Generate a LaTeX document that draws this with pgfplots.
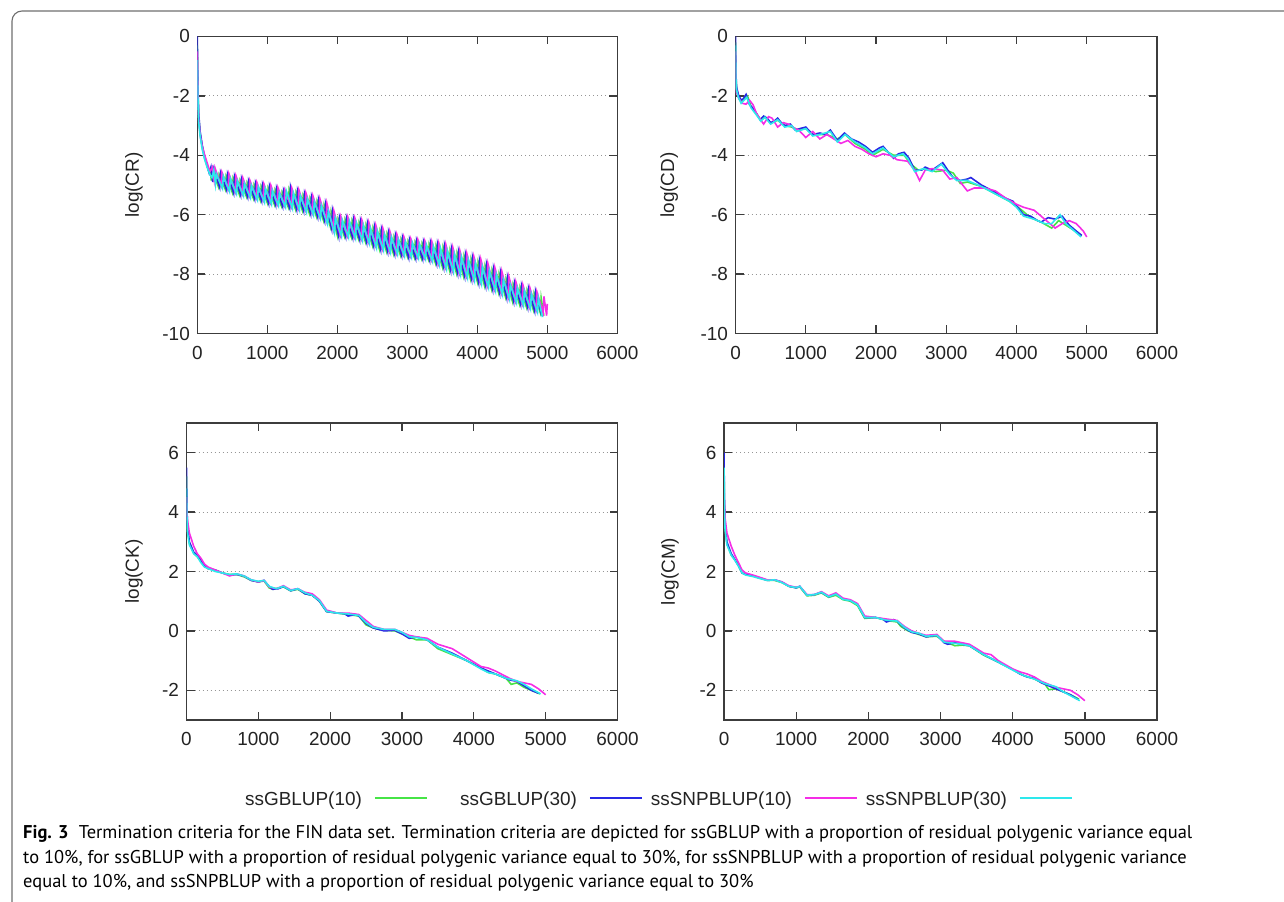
\documentclass[border=0pt]{standalone}
\usepackage{fontspec}
\setmainfont{Liberation Sans}
\newfontfamily\capfont{PT Sans}
\usepackage{pgfplots}
\pgfplotsset{compat=1.18}
\definecolor{cgreen}{RGB}{70,228,70}
\definecolor{cblue}{RGB}{40,40,228}
\definecolor{cmag}{RGB}{245,45,230}
\definecolor{ccyan}{RGB}{45,232,236}
\definecolor{axcol}{RGB}{60,60,60}
\definecolor{txtcol}{RGB}{35,35,35}
\definecolor{gridcol}{RGB}{150,150,150}
\definecolor{framecol}{RGB}{110,110,110}
\newcommand{\pf}{\fontsize{19}{23}\selectfont}
\pgfplotsset{
  myax/.style={
    scale only axis, height=297bp,
    xmin=0, xmax=6000, xtick={0,1000,2000,3000,4000,5000,6000},
    xticklabels={0,1000,2000,3000,4000,5000,6000},
    tick align=inside, major tick length=8bp,
    axis line style={draw=axcol, line width=1.3bp},
    major tick style={draw=axcol, line width=1.3bp},
    ymajorgrids,
    major grid style={draw=gridcol, line width=1.1bp, dash pattern=on 1.1bp off 2.9bp},
    tick label style={font=\pf, text=txtcol},
    xticklabel style={yshift=-9bp},
    yticklabel style={xshift=-4bp},
    label style={font=\pf, text=txtcol},
    every axis plot/.append style={line width=1.6bp},
    legend image code/.code={\draw[#1, line width=2bp] (0bp,1.5bp) -- (52bp,1.5bp);},
  },
  topax/.style={ymin=-10, ymax=0, ytick={-10,-8,-6,-4,-2,0}, yticklabels={-10,-8,-6,-4,-2,0}},
  botax/.style={ymin=-3, ymax=7, ytick={-2,0,2,4,6}, yticklabels={-2,0,2,4,6}},
}
\begin{document}
\begin{tikzpicture}[x=1bp,y=1bp]
\path[use as bounding box] (0,0) rectangle (1284,902);
% frame of the caption box
\draw[framecol, line width=1.1bp] (1290,891) -- (22,891) arc[start angle=90, end angle=180, radius=10] -- (12,-5);

% ---------------- log(CR) ----------------
\begin{axis}[myax, topax, at={(197.3bp,568.5bp)}, anchor=south west, width=420bp,
  ylabel={log(CR)}, ylabel style={at={(axis description cs:-0.1507,0.5)}, anchor=center}]
\addplot[cgreen] coordinates {(0,-0.3)(8,-1.8)(20,-2.7)(40,-3.25)(70,-3.7)(100,-4.05)(130,-4.3)(160,-4.5)(185,-4.45)
(200,-4.85)(212,-4.50)(300,-5.05)(312,-4.65)(400,-5.15)(412,-4.70)(500,-5.25)(512,-4.77)(600,-5.32)(612,-4.85)
(700,-5.38)(712,-4.93)(800,-5.45)(812,-5.00)(900,-5.52)(912,-5.05)(1000,-5.60)(1012,-5.10)(1100,-5.65)(1112,-5.17)
(1200,-5.70)(1212,-5.25)(1300,-5.75)(1312,-5.15)(1400,-5.80)(1412,-5.25)(1500,-5.85)(1512,-5.35)(1600,-5.95)(1612,-5.45)
(1700,-6.05)(1712,-5.55)(1800,-6.18)(1812,-5.68)(1900,-6.40)(1912,-5.90)(2000,-6.70)(2012,-6.15)(2100,-6.72)(2112,-6.17)
(2200,-6.75)(2212,-6.20)(2300,-6.80)(2312,-6.27)(2400,-6.90)(2412,-6.35)(2500,-7.02)(2512,-6.45)(2600,-7.15)(2612,-6.55)
(2700,-7.22)(2712,-6.65)(2800,-7.30)(2812,-6.75)(2900,-7.35)(2912,-6.83)(3000,-7.40)(3012,-6.90)(3100,-7.44)(3112,-6.93)
(3200,-7.47)(3212,-6.97)(3300,-7.50)(3312,-7.00)(3400,-7.62)(3412,-7.05)(3500,-7.75)(3512,-7.10)(3600,-7.85)(3612,-7.20)
(3700,-7.95)(3712,-7.30)(3800,-8.05)(3812,-7.40)(3900,-8.15)(3912,-7.50)(4000,-8.25)(4012,-7.60)(4100,-8.37)(4112,-7.73)
(4200,-8.48)(4212,-7.87)(4300,-8.60)(4312,-8.00)(4400,-8.75)(4412,-8.17)(4500,-8.90)(4512,-8.35)(4600,-9.00)(4612,-8.45)
(4700,-9.10)(4712,-8.55)(4800,-9.20)(4812,-8.65)(4900,-9.30)(4912,-8.80)(4950,-9.40)};
\addplot[cblue] coordinates {(0,0)(8,-1.6)(20,-2.6)(40,-3.2)(70,-3.65)(100,-4.0)(140,-4.35)(170,-4.6)(195,-4.4)
(220,-4.90)(232,-4.45)(320,-5.08)(332,-4.58)(420,-5.18)(432,-4.63)(520,-5.28)(532,-4.70)(620,-5.35)(632,-4.78)
(720,-5.41)(732,-4.86)(820,-5.48)(832,-4.93)(920,-5.55)(932,-4.98)(1020,-5.63)(1032,-5.03)(1120,-5.68)(1132,-5.10)
(1220,-5.73)(1232,-5.18)(1320,-5.78)(1332,-5.06)(1420,-5.83)(1432,-5.18)(1520,-5.88)(1532,-5.28)(1620,-5.98)(1632,-5.38)
(1720,-6.08)(1732,-5.48)(1820,-6.22)(1832,-5.62)(1920,-6.48)(1932,-5.85)(2020,-6.73)(2032,-6.08)(2120,-6.75)(2132,-6.10)
(2220,-6.78)(2232,-6.13)(2320,-6.85)(2332,-6.20)(2420,-6.94)(2432,-6.28)(2520,-7.06)(2532,-6.38)(2620,-7.18)(2632,-6.48)
(2720,-7.25)(2732,-6.58)(2820,-7.33)(2832,-6.68)(2920,-7.38)(2932,-6.76)(3020,-7.45)(3032,-6.83)(3120,-7.48)(3132,-6.86)
(3220,-7.50)(3232,-6.90)(3320,-7.55)(3332,-6.93)(3420,-7.66)(3432,-6.98)(3520,-7.78)(3532,-7.03)(3620,-7.88)(3632,-7.13)
(3720,-7.98)(3732,-7.23)(3820,-8.08)(3832,-7.33)(3920,-8.18)(3932,-7.43)(4020,-8.30)(4032,-7.53)(4120,-8.40)(4132,-7.66)
(4220,-8.52)(4232,-7.80)(4320,-8.65)(4332,-7.93)(4420,-8.80)(4432,-8.10)(4520,-8.93)(4532,-8.28)(4620,-9.03)(4632,-8.38)
(4720,-9.13)(4732,-8.48)(4820,-9.25)(4832,-8.58)(4920,-9.40)};
\addplot[cmag] coordinates {(0,-0.5)(8,-1.9)(20,-2.8)(40,-3.3)(70,-3.7)(100,-3.95)(140,-4.25)(180,-4.55)(215,-4.4)
(240,-4.82)(252,-4.42)(340,-5.02)(352,-4.57)(440,-5.12)(452,-4.62)(540,-5.22)(552,-4.69)(640,-5.28)(652,-4.77)
(740,-5.35)(752,-4.85)(840,-5.42)(852,-4.92)(940,-5.49)(952,-4.97)(1040,-5.57)(1052,-5.02)(1140,-5.62)(1152,-5.09)
(1240,-5.67)(1252,-5.17)(1340,-5.72)(1352,-5.12)(1440,-5.77)(1452,-5.17)(1540,-5.82)(1552,-5.27)(1640,-5.92)(1652,-5.37)
(1740,-6.03)(1752,-5.47)(1840,-6.18)(1852,-5.62)(1940,-6.48)(1952,-5.88)(2040,-6.67)(2052,-6.07)(2140,-6.69)(2152,-6.09)
(2240,-6.73)(2252,-6.12)(2340,-6.79)(2352,-6.19)(2440,-6.88)(2452,-6.27)(2540,-7.00)(2552,-6.37)(2640,-7.12)(2652,-6.47)
(2740,-7.20)(2752,-6.57)(2840,-7.27)(2852,-6.67)(2940,-7.32)(2952,-6.75)(3040,-7.37)(3052,-6.82)(3140,-7.40)(3152,-6.85)
(3240,-7.43)(3252,-6.89)(3340,-7.50)(3352,-6.92)(3440,-7.62)(3452,-6.97)(3540,-7.73)(3552,-7.02)(3640,-7.83)(3652,-7.12)
(3740,-7.93)(3752,-7.22)(3840,-8.03)(3852,-7.32)(3940,-8.13)(3952,-7.42)(4040,-8.23)(4052,-7.52)(4140,-8.35)(4152,-7.65)
(4240,-8.47)(4252,-7.79)(4340,-8.60)(4352,-7.92)(4440,-8.75)(4452,-8.09)(4540,-8.88)(4552,-8.27)(4640,-8.98)(4652,-8.37)
(4740,-9.08)(4752,-8.47)(4840,-9.18)(4852,-8.60)(4940,-9.30)(4952,-8.75)(4990,-9.40)(5000,-9.00)};
\addplot[ccyan] coordinates {(0,-0.8)(8,-2.0)(20,-2.9)(40,-3.35)(70,-3.8)(100,-4.1)(140,-4.4)(180,-4.65)(210,-4.75)(235,-4.5)
(260,-4.97)(272,-4.63)(360,-5.12)(372,-4.70)(460,-5.22)(472,-4.78)(560,-5.30)(572,-4.86)(660,-5.37)(672,-4.94)
(760,-5.44)(772,-5.01)(860,-5.51)(872,-5.06)(960,-5.59)(972,-5.11)(1060,-5.65)(1072,-5.18)(1160,-5.70)(1172,-5.26)
(1260,-5.75)(1272,-5.20)(1360,-5.80)(1372,-5.26)(1460,-5.85)(1472,-5.36)(1560,-5.92)(1572,-5.46)(1660,-6.02)(1672,-5.56)
(1760,-6.14)(1772,-5.69)(1860,-6.32)(1872,-5.88)(1960,-6.62)(1972,-6.10)(2060,-6.73)(2072,-6.18)(2160,-6.76)(2172,-6.21)
(2260,-6.80)(2272,-6.27)(2360,-6.88)(2372,-6.35)(2460,-6.98)(2472,-6.45)(2560,-7.12)(2572,-6.55)(2660,-7.20)(2672,-6.65)
(2760,-7.28)(2772,-6.75)(2860,-7.34)(2872,-6.83)(2960,-7.40)(2972,-6.90)(3060,-7.44)(3072,-6.94)(3160,-7.47)(3172,-6.98)
(3260,-7.50)(3272,-7.01)(3360,-7.58)(3372,-7.06)(3460,-7.71)(3472,-7.11)(3560,-7.83)(3572,-7.21)(3660,-7.93)(3672,-7.31)
(3760,-8.03)(3772,-7.41)(3860,-8.13)(3872,-7.51)(3960,-8.23)(3972,-7.61)(4060,-8.34)(4072,-7.74)(4160,-8.45)(4172,-7.88)
(4260,-8.57)(4272,-8.01)(4360,-8.70)(4372,-8.18)(4460,-8.85)(4472,-8.36)(4560,-8.97)(4572,-8.46)(4660,-9.07)(4672,-8.56)
(4760,-9.17)(4772,-8.66)(4860,-9.28)(4872,-8.80)(4930,-9.45)};
\end{axis}

% ---------------- log(CD) ----------------
\begin{axis}[myax, topax, at={(735.5bp,568.5bp)}, anchor=south west, width=421.5bp,
  ylabel={log(CD)}, ylabel style={at={(axis description cs:-0.1573,0.5)}, anchor=center}]
\addplot[cgreen] coordinates {(0,-0.2)(5,-1.3)(15,-1.75)(40,-2.0)(80,-2.2)(120,-2.1)(170,-2.0)(220,-2.35)(300,-2.6)(360,-2.82)(420,-2.7)(500,-2.92)(600,-2.82)(700,-3.0)(800,-3.05)(900,-3.15)(1000,-3.1)(1100,-3.3)(1300,-3.3)(1450,-3.45)(1560,-3.3)(1700,-3.6)(1850,-3.8)(1950,-4.0)(2100,-3.8)(2250,-4.0)(2400,-4.0)(2500,-4.3)(2600,-4.5)(2700,-4.45)(2850,-4.55)(3000,-4.5)(3100,-4.6)(3200,-4.95)(3300,-4.9)(3500,-5.05)(3700,-5.3)(3900,-5.55)(4050,-5.8)(4200,-6.1)(4350,-6.25)(4500,-6.45)(4600,-6.2)(4700,-6.35)(4800,-6.5)(4920,-6.7)};
\addplot[cblue] coordinates {(0,0)(5,-1.2)(15,-1.7)(40,-1.95)(80,-2.15)(110,-2.1)(150,-1.95)(200,-2.3)(260,-2.45)(300,-2.6)(350,-2.8)(400,-2.68)(450,-2.75)(500,-2.9)(550,-2.85)(600,-2.75)(650,-2.9)(700,-3.0)(780,-2.95)(850,-3.15)(920,-3.1)(1000,-3.05)(1100,-3.3)(1200,-3.25)(1280,-3.3)(1350,-3.15)(1450,-3.5)(1550,-3.25)(1650,-3.45)(1750,-3.55)(1850,-3.7)(1950,-3.9)(2050,-3.75)(2100,-3.7)(2250,-4.1)(2320,-3.95)(2400,-3.9)(2470,-4.1)(2550,-4.5)(2650,-4.5)(2700,-4.4)(2800,-4.5)(2950,-4.25)(3050,-4.6)(3100,-4.75)(3200,-4.85)(3300,-4.8)(3350,-4.75)(3500,-5.0)(3700,-5.25)(3850,-5.45)(3950,-5.55)(4000,-5.7)(4100,-6.0)(4200,-6.05)(4300,-6.2)(4350,-6.25)(4450,-6.1)(4550,-6.15)(4650,-6.05)(4750,-6.35)(4850,-6.55)(4930,-6.7)};
\addplot[cmag] coordinates {(0,-0.5)(5,-1.5)(15,-1.9)(50,-2.1)(100,-2.25)(150,-2.28)(200,-2.15)(250,-2.3)(300,-2.6)(400,-2.95)(470,-2.7)(520,-2.75)(600,-3.05)(680,-2.9)(750,-2.95)(850,-3.1)(900,-3.15)(1000,-3.4)(1100,-3.2)(1200,-3.45)(1300,-3.3)(1400,-3.45)(1500,-3.6)(1600,-3.5)(1700,-3.7)(1800,-3.8)(1900,-3.95)(2000,-4.05)(2100,-3.95)(2200,-4.0)(2300,-4.15)(2450,-4.2)(2550,-4.5)(2620,-4.85)(2700,-4.5)(2800,-4.45)(2950,-4.5)(3050,-4.8)(3150,-4.75)(3300,-5.2)(3400,-5.1)(3550,-5.1)(3700,-5.2)(3850,-5.45)(4000,-5.65)(4100,-5.75)(4250,-5.85)(4400,-6.15)(4550,-6.45)(4650,-6.3)(4750,-6.2)(4850,-6.3)(4950,-6.55)(5000,-6.75)};
\addplot[ccyan] coordinates {(0,-0.3)(5,-1.4)(15,-1.8)(40,-2.05)(80,-2.25)(120,-2.15)(160,-2.05)(220,-2.4)(300,-2.65)(360,-2.85)(420,-2.72)(500,-2.95)(600,-2.8)(700,-3.05)(800,-3.0)(870,-3.2)(1000,-3.1)(1100,-3.35)(1200,-3.3)(1350,-3.2)(1450,-3.55)(1560,-3.3)(1700,-3.55)(1850,-3.75)(1950,-3.95)(2100,-3.75)(2250,-4.05)(2380,-3.95)(2450,-4.1)(2550,-4.55)(2680,-4.45)(2800,-4.55)(2930,-4.3)(3050,-4.65)(3150,-4.85)(3300,-4.85)(3500,-5.05)(3700,-5.3)(3900,-5.55)(4000,-5.75)(4100,-6.05)(4250,-6.15)(4400,-6.3)(4500,-6.3)(4620,-6.0)(4700,-6.3)(4800,-6.5)(4920,-6.75)};
\end{axis}

% ---------------- log(CK) ----------------
\begin{axis}[myax, botax, at={(186.5bp,182bp)}, anchor=south west, width=431bp,
  ylabel={log(CK)}, ylabel style={at={(axis description cs:-0.1218,0.5)}, anchor=center},
  legend plot pos=right,
  legend style={draw=none, fill=none, inner sep=0pt, legend columns=4, font=\pf,
    at={(axis description cs:0.0677,-0.2674)}, anchor=west,
    nodes={inner sep=0pt, text=txtcol},
    /tikz/every odd column/.append style={column sep=12bp},
    /tikz/every even column/.append style={column sep=3bp}}]
\addplot[cgreen] coordinates {(0,5.2)(5,4.0)(15,3.4)(40,2.95)(100,2.62)(150,2.5)(200,2.35)(250,2.2)(300,2.1)(400,2.05)(500,1.95)(600,1.9)(700,1.9)(800,1.82)(900,1.7)(1000,1.65)(1080,1.68)(1150,1.45)(1200,1.4)(1350,1.48)(1450,1.35)(1550,1.4)(1650,1.25)(1750,1.2)(1850,1.0)(1950,0.65)(2100,0.6)(2250,0.55)(2400,0.5)(2450,0.35)(2500,0.2)(2600,0.1)(2750,0.02)(2900,0.0)(3000,-0.1)(3100,-0.2)(3200,-0.3)(3350,-0.3)(3500,-0.6)(3700,-0.8)(3900,-1.0)(4100,-1.25)(4200,-1.4)(4300,-1.45)(4450,-1.6)(4520,-1.8)(4600,-1.75)(4700,-1.9)(4800,-2.0)(4920,-2.12)};
\addlegendentry{\makebox[146bp][r]{ssGBLUP(10)}}
\addplot[cblue] coordinates {(0,5.5)(5,4.2)(15,3.5)(40,3.0)(100,2.65)(150,2.55)(200,2.4)(250,2.2)(300,2.1)(400,2.05)(500,1.95)(600,1.88)(700,1.9)(800,1.85)(900,1.7)(1000,1.65)(1080,1.7)(1150,1.5)(1200,1.4)(1280,1.42)(1350,1.5)(1450,1.35)(1550,1.42)(1650,1.25)(1750,1.2)(1850,1.0)(1950,0.65)(2100,0.6)(2200,0.58)(2250,0.5)(2350,0.55)(2400,0.5)(2500,0.25)(2600,0.1)(2750,0.0)(2900,0.02)(3000,-0.1)(3100,-0.25)(3200,-0.2)(3350,-0.3)(3500,-0.55)(3700,-0.75)(3900,-1.0)(4100,-1.25)(4200,-1.35)(4300,-1.45)(4400,-1.55)(4500,-1.65)(4600,-1.7)(4700,-1.85)(4800,-2.0)(4900,-2.1)};
\addlegendentry{\makebox[146bp][r]{ssGBLUP(30)}}
\addplot[cmag] coordinates {(0,4.5)(5,4.0)(15,3.7)(40,3.3)(100,2.85)(150,2.6)(200,2.45)(250,2.25)(300,2.15)(400,2.05)(500,1.95)(600,1.85)(700,1.92)(800,1.85)(900,1.72)(1000,1.65)(1080,1.7)(1150,1.48)(1250,1.42)(1350,1.52)(1450,1.38)(1550,1.42)(1650,1.3)(1750,1.25)(1850,1.05)(1950,0.7)(2100,0.6)(2250,0.6)(2400,0.55)(2500,0.35)(2600,0.15)(2750,0.05)(2900,0.05)(3000,-0.05)(3100,-0.15)(3200,-0.2)(3350,-0.25)(3500,-0.45)(3700,-0.6)(3900,-0.9)(4100,-1.2)(4200,-1.25)(4300,-1.35)(4500,-1.6)(4600,-1.7)(4700,-1.75)(4800,-1.8)(4900,-1.95)(5000,-2.15)};
\addlegendentry{\makebox[146bp][r]{ssSNPBLUP(10)}}
\addplot[ccyan] coordinates {(0,4.8)(5,3.9)(15,3.3)(40,2.9)(100,2.6)(150,2.5)(200,2.3)(250,2.15)(300,2.1)(400,2.0)(500,1.95)(600,1.9)(700,1.92)(800,1.85)(900,1.72)(1000,1.67)(1080,1.7)(1150,1.5)(1250,1.42)(1350,1.5)(1450,1.36)(1550,1.42)(1650,1.28)(1750,1.2)(1850,1.02)(1950,0.66)(2100,0.6)(2250,0.57)(2400,0.52)(2500,0.28)(2600,0.12)(2750,0.05)(2900,0.05)(3000,-0.05)(3100,-0.2)(3200,-0.22)(3350,-0.3)(3500,-0.55)(3700,-0.78)(3900,-1.0)(4100,-1.28)(4200,-1.4)(4300,-1.45)(4450,-1.6)(4600,-1.68)(4700,-1.8)(4800,-1.95)(4930,-2.12)};
\addlegendentry{\makebox[146bp][r]{ssSNPBLUP(30)}}
\end{axis}

% ---------------- log(CM) ----------------
\begin{axis}[myax, botax, at={(724bp,182bp)}, anchor=south west, width=433bp,
  ylabel={log(CM)}, ylabel style={at={(axis description cs:-0.1247,0.5)}, anchor=center}]
\addplot[cgreen] coordinates {(0,5.8)(5,4.3)(15,3.5)(40,2.95)(100,2.55)(150,2.4)(200,2.2)(250,1.95)(300,1.9)(400,1.85)(500,1.78)(600,1.7)(700,1.7)(800,1.63)(900,1.5)(1000,1.45)(1050,1.48)(1150,1.18)(1250,1.2)(1350,1.28)(1450,1.13)(1550,1.2)(1650,1.05)(1750,1.0)(1850,0.85)(1950,0.42)(2100,0.45)(2250,0.35)(2400,0.3)(2450,0.15)(2550,0.0)(2650,-0.08)(2800,-0.2)(2950,-0.18)(3050,-0.35)(3200,-0.5)(3300,-0.48)(3400,-0.5)(3600,-0.82)(3800,-1.05)(4000,-1.3)(4150,-1.5)(4300,-1.62)(4450,-1.8)(4500,-1.98)(4600,-1.95)(4700,-2.05)(4800,-2.15)(4920,-2.3)};
\addplot[cblue] coordinates {(0,6.0)(5,4.5)(15,3.6)(40,3.0)(100,2.6)(150,2.4)(200,2.2)(250,1.95)(300,1.9)(400,1.85)(500,1.78)(600,1.7)(700,1.72)(800,1.65)(900,1.5)(1000,1.45)(1050,1.5)(1150,1.2)(1250,1.22)(1350,1.3)(1450,1.15)(1550,1.25)(1650,1.08)(1750,1.02)(1850,0.9)(1950,0.45)(2100,0.45)(2200,0.4)(2250,0.3)(2350,0.38)(2400,0.32)(2500,0.1)(2600,-0.05)(2700,-0.1)(2800,-0.2)(2950,-0.15)(3050,-0.4)(3100,-0.45)(3200,-0.4)(3300,-0.45)(3400,-0.5)(3600,-0.8)(3800,-1.05)(4000,-1.3)(4100,-1.45)(4200,-1.55)(4300,-1.6)(4400,-1.75)(4500,-1.85)(4600,-1.95)(4700,-2.05)(4800,-2.15)(4900,-2.3)};
\addplot[cmag] coordinates {(0,5.0)(5,4.3)(15,3.8)(40,3.3)(100,2.85)(150,2.55)(200,2.3)(250,2.05)(300,1.95)(400,1.88)(500,1.8)(600,1.72)(700,1.72)(800,1.65)(900,1.52)(1000,1.47)(1050,1.5)(1150,1.22)(1250,1.22)(1350,1.32)(1450,1.18)(1550,1.28)(1650,1.1)(1750,1.05)(1850,0.92)(1950,0.5)(2100,0.45)(2250,0.4)(2400,0.35)(2500,0.15)(2600,0.0)(2700,-0.08)(2800,-0.15)(2950,-0.12)(3050,-0.35)(3200,-0.35)(3300,-0.4)(3400,-0.45)(3600,-0.75)(3700,-0.8)(3800,-1.0)(4000,-1.28)(4100,-1.38)(4200,-1.45)(4300,-1.55)(4400,-1.7)(4500,-1.8)(4600,-1.9)(4700,-1.95)(4800,-2.0)(4900,-2.15)(5000,-2.35)};
\addplot[ccyan] coordinates {(0,5.5)(5,4.1)(15,3.4)(40,2.9)(100,2.55)(150,2.38)(200,2.18)(250,1.95)(300,1.88)(400,1.83)(500,1.76)(600,1.7)(700,1.72)(800,1.63)(900,1.5)(1000,1.46)(1050,1.5)(1150,1.2)(1250,1.22)(1350,1.3)(1450,1.15)(1550,1.24)(1650,1.06)(1750,1.02)(1850,0.88)(1950,0.45)(2100,0.45)(2250,0.36)(2400,0.33)(2500,0.12)(2600,-0.03)(2700,-0.08)(2800,-0.18)(2950,-0.15)(3050,-0.38)(3200,-0.42)(3300,-0.45)(3400,-0.5)(3600,-0.8)(3800,-1.05)(4000,-1.32)(4150,-1.5)(4300,-1.62)(4450,-1.78)(4600,-1.88)(4700,-2.05)(4800,-2.18)(4930,-2.35)};
\end{axis}

% ---------------- caption ----------------
\begin{scope}[every node/.style={anchor=base west, inner sep=0pt, font=\capfont\fontsize{18.55}{22}\selectfont, text=black}]
\node at (23,63) {\textbf{Fig. 3}\hspace{0.55em}Termination criteria for the FIN data set. Termination criteria are depicted for ssGBLUP with a proportion of residual polygenic variance equal};
\node at (23,38.5) {to 10\%, for ssGBLUP with a proportion of residual polygenic variance equal to 30\%, for ssSNPBLUP with a proportion of residual polygenic variance};
\node at (23,14) {equal to 10\%, and ssSNPBLUP with a proportion of residual polygenic variance equal to 30\%};
\end{scope}
\end{tikzpicture}
\end{document}
